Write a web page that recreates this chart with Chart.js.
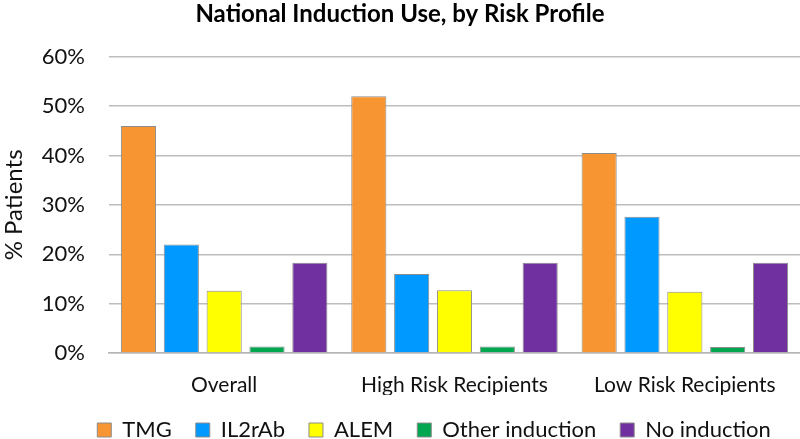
<!DOCTYPE html>
<html>
<head>
<meta charset="utf-8">
<script src="https://cdn.jsdelivr.net/npm/chart.js@4.4.0/dist/chart.umd.min.js"></script>
<style>
  html, body { margin: 0; padding: 0; background: #fff; }
  #wrap { width: 800px; height: 439px; }
</style>
</head>
<body>
<div id="wrap"><canvas id="chart" width="800" height="439"></canvas></div>
<script>
const categories = ["Overall", "High Risk Recipients", "Low Risk Recipients"];
const seriesNames = ["TMG", "IL2rAb", "ALEM", "Other induction", "No induction"];
const tmg = [46.0, 52.0, 40.5];
const il2rab = [22.0, 16.0, 27.6];
const alem = [12.6, 12.7, 12.4];
const otherInduction = [1.3, 1.3, 1.2];
const noInduction = [18.3, 18.3, 18.3];
const yTicks = [0, 10, 20, 30, 40, 50, 60];

const seriesValues = [tmg, il2rab, alem, otherInduction, noInduction];
const seriesColors = ["#F79532", "#0099FF", "#FFFF00", "#00A650", "#7030A0"];

const fontFamily = "Lato, 'Open Sans', sans-serif";

// nudge the legend row to the right like the original
const legendShift = {
  id: 'legendShift',
  afterLayout(chart) {
    const lg = chart.legend;
    if (!lg) return;
    lg.left += 34;
    lg.right += 34;
    lg.bottom += 10;
  }
};

new Chart(document.getElementById('chart'), {
  type: 'bar',
  data: {
    labels: categories,
    datasets: seriesNames.map((name, i) => ({
      label: name,
      data: seriesValues[i],
      backgroundColor: seriesColors[i],
      borderColor: '#8c8c8c',
      borderWidth: 1,
      categoryPercentage: 0.93,
      barPercentage: 0.82
    }))
  },
  options: {
    responsive: false,
    animation: false,
    layout: { padding: { left: 0, right: 0, top: 0, bottom: 0 } },
    plugins: {
      title: {
        display: true,
        text: 'National Induction Use, by Risk Profile',
        color: '#000',
        font: { family: fontFamily, size: 24, weight: 'bold' },
        padding: { top: 0, bottom: 28 }
      },
      legend: {
        position: 'bottom',
        align: 'center',
        maxHeight: 44,
        labels: {
          color: '#111',
          font: { family: fontFamily, size: 22 },
          boxWidth: 14,
          boxHeight: 14,
          padding: 24
        }
      },
      tooltip: { enabled: false }
    },
    scales: {
      x: {
        afterFit(axis) {
          axis.height = 42;
        },
        grid: { display: false },
        border: { display: true, color: '#b5b5b5', width: 1.5 },
        ticks: {
          color: '#111',
          font: { family: fontFamily, size: 21 },
          padding: 12
        }
      },
      y: {
        min: 0,
        max: 60,
        afterBuildTicks(axis) {
          axis.ticks = yTicks.map(v => ({ value: v }));
        },
        afterFit(axis) {
          axis.width = 109;
        },
        grid: { color: '#bdbdbd', lineWidth: 1.5, drawTicks: false },
        border: { display: false },
        ticks: {
          color: '#111',
          font: { family: fontFamily, size: 22 },
          padding: 24,
          callback: v => v + '%'
        },
        title: {
          display: true,
          text: '% Patients',
          color: '#111',
          font: { family: fontFamily, size: 24 },
          padding: { top: 0, bottom: 0 }
        }
      }
    }
  },
  plugins: [legendShift]
});
</script>
</body>
</html>
